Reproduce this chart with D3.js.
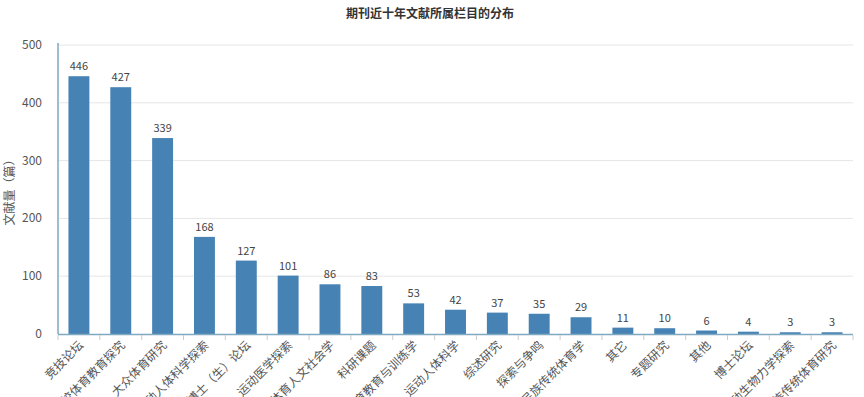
<!DOCTYPE html>
<html><head><meta charset="utf-8">
<script src="https://cdn.jsdelivr.net/npm/d3@7/dist/d3.min.js"></script>
<style>body{margin:0;background:#fff;}text{font-family:"Microsoft YaHei","Noto Sans CJK SC",sans-serif;}</style>
</head><body><svg id="c" width="864" height="397"></svg>
<script>
const categories = ["竞技论坛","学校体育教育探究","大众体育研究","运动人体科学探索","博士（生）论坛","运动医学探索","体育人文社会学","科研课题","体育教育与训练学","运动人体科学","综述研究","探索与争鸣","民族传统体育学","其它","专题研究","其他","博士论坛","运动生物力学探索","民族传统体育研究"];
const values = [446,427,339,168,127,101,86,83,53,42,37,35,29,11,10,6,4,3,3];
const yTicks = [0,100,200,300,400,500];
const title = "期刊近十年文献所属栏目的分布";
const yLabel = "文献量（篇）";

const svg = d3.select("#c");
const m = {l:58, r:853, t:45, b:334};
const x = d3.scaleBand().domain(categories).range([m.l, m.r]).paddingInner(0.5).paddingOuter(0.25);
const y = d3.scaleLinear().domain([0,500]).range([m.b, m.t]);

svg.append("text").attr("x",430).attr("y",18).attr("text-anchor","middle")
  .attr("font-size",12).attr("font-weight","bold").attr("fill","#333").text(title);

// grid
svg.append("g").selectAll("line").data(yTicks.filter(d=>d>0)).join("line")
  .attr("x1",m.l).attr("x2",m.r).attr("y1",d=>y(d)).attr("y2",d=>y(d))
  .attr("stroke","#e6e6e6").attr("stroke-width",1);

// y tick labels
svg.append("g").selectAll("text").data(yTicks).join("text")
  .attr("x",42).attr("y",d=>y(d)+4).attr("text-anchor","end")
  .attr("font-size",12).attr("fill","#555").text(d=>d);

svg.append("text").attr("transform",`translate(14,${(m.t+m.b)/2}) rotate(-90)`)
  .attr("text-anchor","middle").attr("font-size",12).attr("fill","#555").text(yLabel);

// bars
svg.append("g").selectAll("rect").data(values).join("rect")
  .attr("x",(d,i)=>x(categories[i])).attr("width",x.bandwidth())
  .attr("y",d=>y(d)).attr("height",d=>m.b-y(d)).attr("fill","#4682b4");

svg.append("g").selectAll("text").data(values).join("text")
  .attr("x",(d,i)=>x(categories[i])+x.bandwidth()/2).attr("y",d=>y(d)-6)
  .attr("text-anchor","middle").attr("font-size",11).attr("fill","#444").text(d=>d);

// axes lines
svg.append("line").attr("x1",m.l).attr("x2",m.l).attr("y1",m.t-2).attr("y2",m.b).attr("stroke","#7fa9c0").attr("stroke-width",1.5);
svg.append("line").attr("x1",m.l).attr("x2",m.r).attr("y1",m.b+0.5).attr("y2",m.b+0.5).attr("stroke","#7fa9c0").attr("stroke-width",1.5);

// x ticks
const step = (m.r-m.l)/categories.length;
svg.append("g").selectAll("line").data(d3.range(categories.length+1)).join("line")
  .attr("x1",i=>m.l+i*step).attr("x2",i=>m.l+i*step).attr("y1",m.b+1).attr("y2",m.b+6)
  .attr("stroke","#ccc");

svg.append("g").selectAll("text").data(categories).join("text")
  .attr("transform",d=>`translate(${x(d)+x.bandwidth()/2+5},${m.b+12}) rotate(-45)`)
  .attr("text-anchor","end").attr("font-size",12).attr("fill","#555").text(d=>d);
</script></body></html>
